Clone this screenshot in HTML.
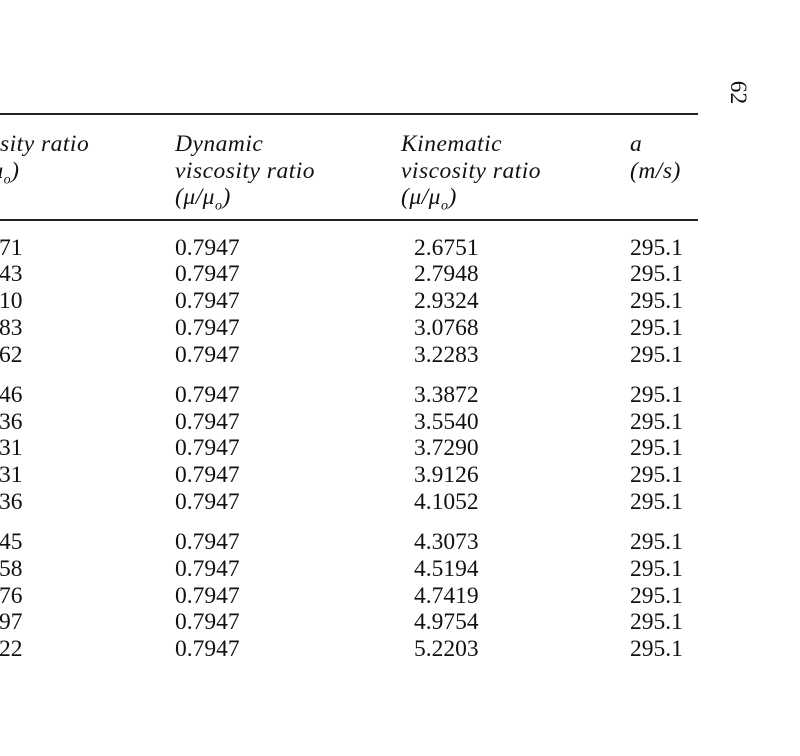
<!DOCTYPE html>
<html><head><meta charset="utf-8"><style>
html,body{margin:0;padding:0;background:#fff;}
body{width:800px;height:756px;position:relative;overflow:hidden;font-family:"Liberation Serif",serif;font-size:23.5px;color:#111;}
.t{position:absolute;line-height:23.5px;white-space:nowrap;}
.i{font-style:italic;letter-spacing:0.5px;}
.r{position:absolute;left:0;width:698px;background:#222;}
.lc{position:absolute;width:22px;left:-1px;text-align:right;line-height:23.5px;}
</style></head><body>
<div class="r" style="top:113px;height:2px"></div>
<div class="r" style="top:219px;height:2px"></div>
<div class="t" style="left:725px;top:81px;transform:rotate(90deg);transform-origin:center;width:24px;">62</div>

<div class="t i" style="left:0px;top:133px">sity ratio</div>
<div class="t i" style="left:-17px;top:160px">(μ<sub style="font-size:14px">o</sub>)</div>

<div class="t i" style="left:175px;top:133px">Dynamic</div>
<div class="t i" style="left:175px;top:160px">viscosity ratio</div>
<div class="t i" style="left:175px;top:186px">(μ/μ<sub style="font-size:14px">o</sub>)</div>

<div class="t i" style="left:401px;top:133px">Kinematic</div>
<div class="t i" style="left:401px;top:160px">viscosity ratio</div>
<div class="t i" style="left:401px;top:186px">(μ/μ<sub style="font-size:14px">o</sub>)</div>

<div class="t i" style="left:630px;top:133px">a</div>
<div class="t i" style="left:630px;top:160px">(m/s)</div>

<div id="rows"></div>
<script>
var tops=[237,263,290,317,344,384,411,437,464,491,531,558,585,611,638];
var a=["71","43","10","83","62","46","36","31","31","36","45","58","76","97","22"];
var k=["2.6751","2.7948","2.9324","3.0768","3.2283","3.3872","3.5540","3.7290","3.9126","4.1052","4.3073","4.5194","4.7419","4.9754","5.2203"];
var h="";
for(var i=0;i<15;i++){var t=tops[i];
h+='<div class="lc" style="top:'+t+'px">'+a[i]+'</div>';
h+='<div class="t" style="left:175px;top:'+t+'px">0.7947</div>';
h+='<div class="t" style="left:414px;top:'+t+'px">'+k[i]+'</div>';
h+='<div class="t" style="left:630px;top:'+t+'px">295.1</div>';}
document.getElementById("rows").innerHTML=h;
</script>
</body></html>
